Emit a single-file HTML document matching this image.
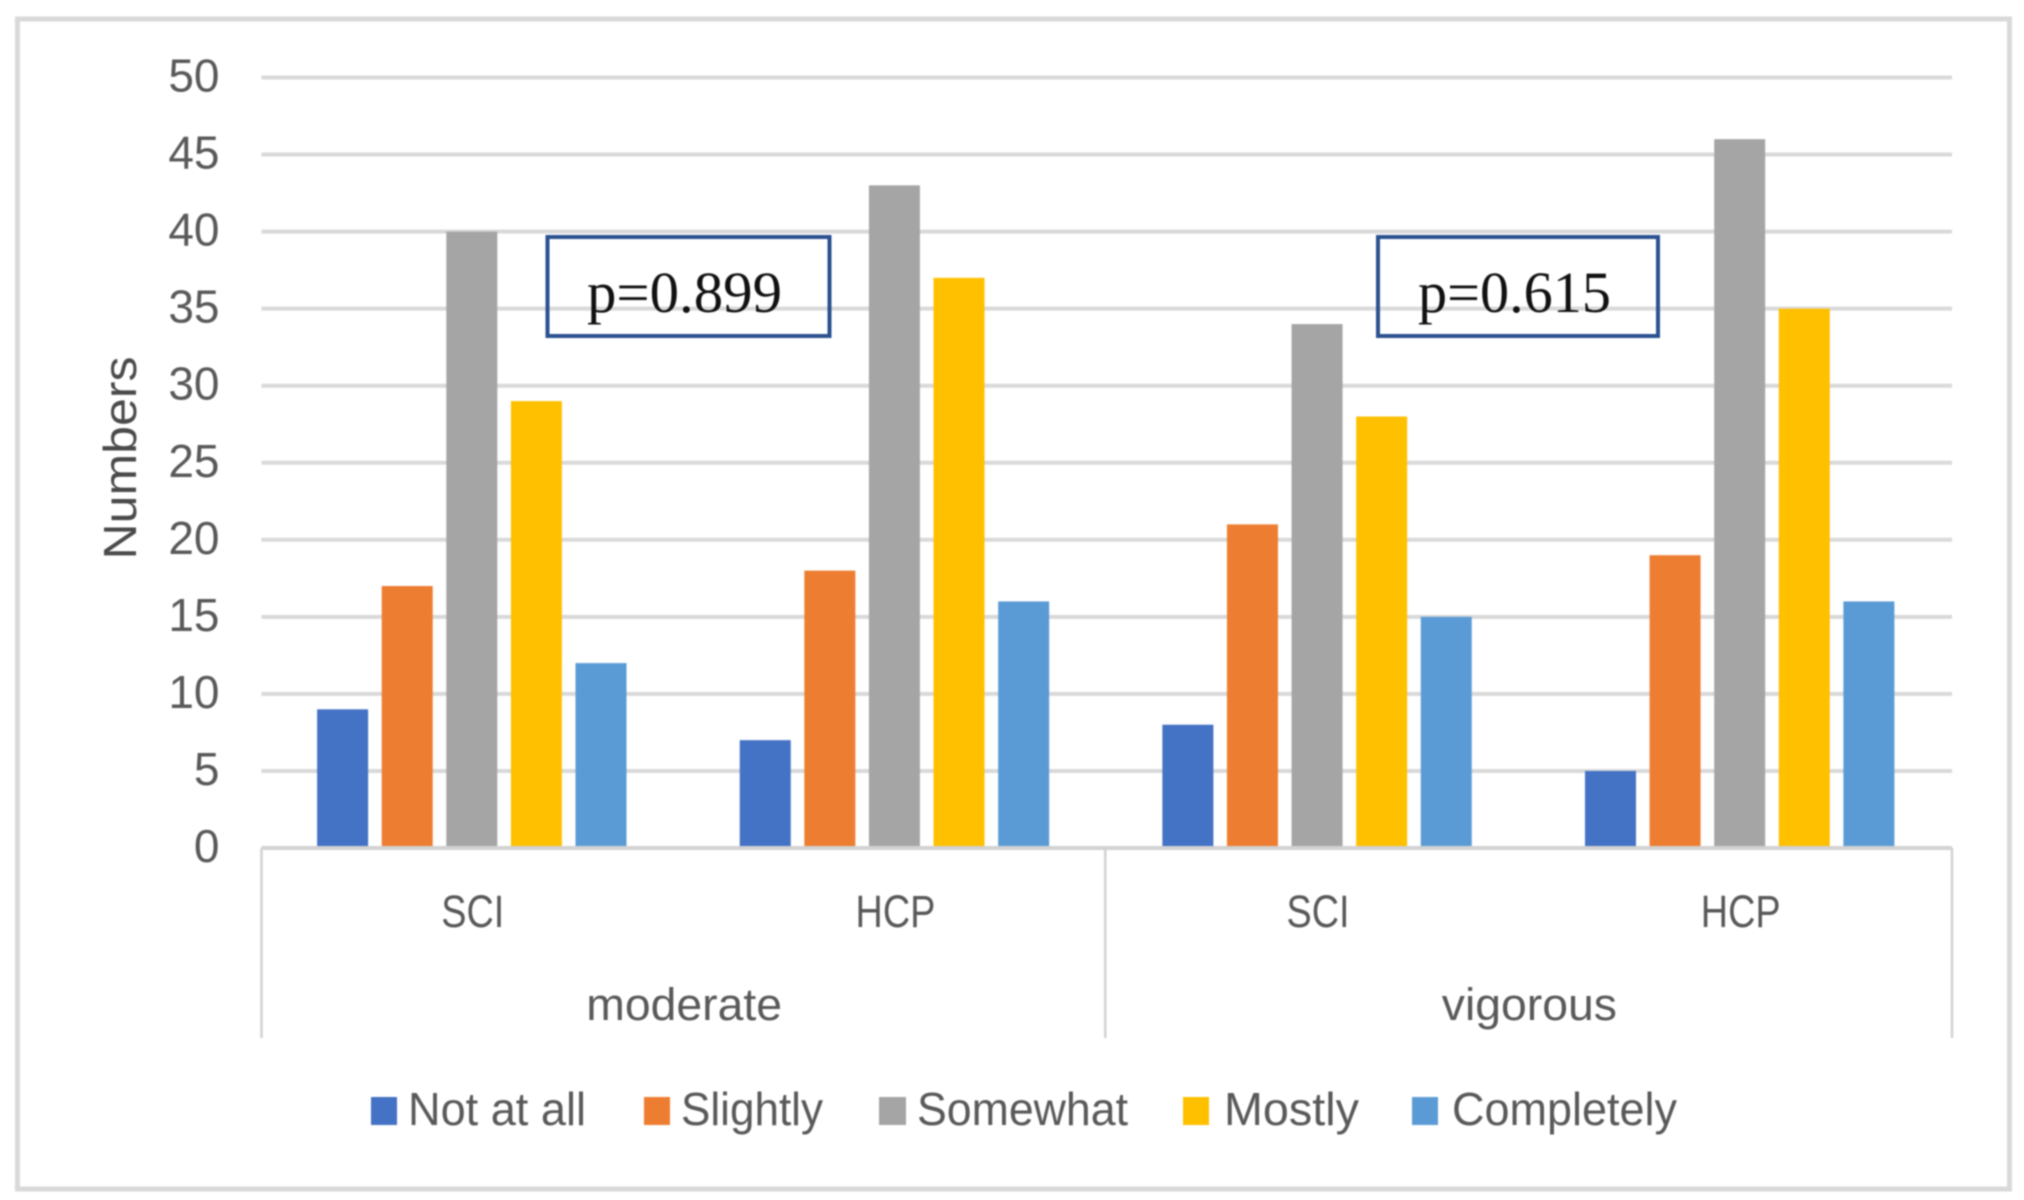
<!DOCTYPE html>
<html lang="en">
<head>
<meta charset="utf-8">
<title>Numbers by activity level and group</title>
<style>
  html, body { margin: 0; padding: 0; background: #ffffff; }
  body { width: 2024px; height: 1200px; overflow: hidden; }
  svg { display: block; filter: blur(0.7px); }
  text { font-family: "Liberation Sans", sans-serif; fill: #595959; }
  .pval { font-family: "Liberation Serif", serif; font-size: 58px; fill: #111111; }
</style>
</head>
<body>
<svg id="chart" xmlns="http://www.w3.org/2000/svg" width="2024" height="1200" viewBox="0 0 2024 1200">
  <rect x="17.5" y="19" width="1992" height="1170" fill="#ffffff" stroke="#d9d9d9" stroke-width="5"/>
  <g id="grid"></g>
  <g id="yticks"></g>
  <text transform="translate(136 458) rotate(-90)" text-anchor="middle" font-size="46" style="fill:#4a4a4a" textLength="203" lengthAdjust="spacingAndGlyphs">Numbers</text>
  <g id="axis"></g>
  <g id="bars"></g>

  <g>
    <rect x="547.5" y="237" width="282" height="99" fill="none" stroke="#2a5090" stroke-width="4"/>
    <text class="pval" x="587" y="312" textLength="195" lengthAdjust="spacingAndGlyphs">p=0.899</text>
  </g>
  <g>
    <rect x="1378" y="237" width="280" height="99" fill="none" stroke="#2a5090" stroke-width="4"/>
    <text class="pval" x="1418" y="312" textLength="193" lengthAdjust="spacingAndGlyphs">p=0.615</text>
  </g>

  <g>
    <g>
      <rect x="371" y="1097" width="26" height="28" fill="#4472c4"/>
      <text x="408" y="1125" font-size="46" textLength="178" lengthAdjust="spacingAndGlyphs">Not at all</text>
    </g>
    <g>
      <rect x="644" y="1097" width="26" height="28" fill="#ed7d31"/>
      <text x="681" y="1125" font-size="46" textLength="142" lengthAdjust="spacingAndGlyphs">Slightly</text>
    </g>
    <g>
      <rect x="879" y="1097" width="27" height="28" fill="#a5a5a5"/>
      <text x="917" y="1125" font-size="46" textLength="211" lengthAdjust="spacingAndGlyphs">Somewhat</text>
    </g>
    <g>
      <rect x="1183" y="1097" width="26" height="28" fill="#ffc000"/>
      <text x="1224" y="1125" font-size="46" textLength="135" lengthAdjust="spacingAndGlyphs">Mostly</text>
    </g>
    <g>
      <rect x="1412" y="1097" width="26" height="28" fill="#5b9bd5"/>
      <text x="1452" y="1125" font-size="46" textLength="225" lengthAdjust="spacingAndGlyphs">Completely</text>
    </g>
  </g>
</svg>

<script>
// Chart data
const groupLabels = ["SCI", "HCP", "SCI", "HCP"];
const levelLabels = ["moderate", "vigorous"];
const seriesNames = ["not-at-all", "slightly", "somewhat", "mostly", "completely"];
const notAtAll   = [9, 7, 8, 5];
const slightly   = [17, 18, 21, 19];
const somewhat   = [40, 43, 34, 46];
const mostly     = [29, 37, 28, 35];
const completely = [12, 16, 15, 16];
const yTicks = [0, 5, 10, 15, 20, 25, 30, 35, 40, 45, 50];

const seriesValues = [notAtAll, slightly, somewhat, mostly, completely];
const seriesColors = ["#4472c4", "#ed7d31", "#a5a5a5", "#ffc000", "#5b9bd5"];

const NS = "http://www.w3.org/2000/svg";
const plotLeft = 261.5, plotRight = 1952, plotTop = 77.5, plotBottom = 848, axisBottom = 1038;
const yMax = 50;
const barPitch = 64.6, barWidth = 51;

function yScale(v) { return plotBottom - (v / yMax) * (plotBottom - plotTop); }
function groupCenter(i) { return plotLeft + (i + 0.5) * (plotRight - plotLeft) / groupLabels.length; }
function barX(groupIndex, seriesIndex) {
  return groupCenter(groupIndex) - 1 + (seriesIndex - (seriesValues.length - 1) / 2) * barPitch - barWidth / 2;
}
function make(tag, attrs, parent, content) {
  const el = document.createElementNS(NS, tag);
  for (const k in attrs) el.setAttribute(k, attrs[k]);
  if (content !== undefined) el.textContent = content;
  parent.appendChild(el);
  return el;
}
function stretch(el, factor) {
  el.setAttribute("textLength", el.getComputedTextLength() * factor);
  el.setAttribute("lengthAdjust", "spacingAndGlyphs");
}

const gridG = document.getElementById("grid");
const tickG = document.getElementById("yticks");
const axisG = document.getElementById("axis");
const barsG = document.getElementById("bars");

yTicks.forEach(function (t) {
  if (t !== 0) {
    const line = make("line", { x1: plotLeft, x2: plotRight, y1: yScale(t), y2: yScale(t), stroke: "#d9d9d9", "stroke-width": 4 }, gridG);
    
    
  }
  const label = make("text", { x: 219.5, y: yScale(t) + 14, "text-anchor": "end", "font-size": 46 }, tickG, String(t));
  
  
});

const baseLine = make("line", { x1: plotLeft, x2: plotRight, y1: plotBottom, y2: plotBottom, stroke: "#d2d2d2", "stroke-width": 4 }, axisG);



const dividerCount = levelLabels.length + 1;
for (let d = 0; d < dividerCount; d++) {
  const x = plotLeft + d * (plotRight - plotLeft) / levelLabels.length - (d === 1 ? 1.5 : 0);
  const divider = make("line", { x1: x, x2: x, y1: plotBottom, y2: axisBottom, stroke: "#d2d2d2", "stroke-width": 2.5 }, axisG);
  
  
}

groupLabels.forEach(function (g, i) {
  const label = make("text", { x: groupCenter(i), y: 927, "text-anchor": "middle", "font-size": 45 }, axisG, g);
  
  
  stretch(label, 0.84);
});

levelLabels.forEach(function (l, i) {
  const cx = plotLeft + (i + 0.5) * (plotRight - plotLeft) / levelLabels.length;
  const label = make("text", { x: cx, y: 1020, "text-anchor": "middle", "font-size": 45 }, axisG, l);
  
  
  stretch(label, 1.03);
});

seriesValues.forEach(function (values, s) {
  values.forEach(function (v, g) {
    const bar = make("rect", { x: barX(g, s), y: yScale(v), width: barWidth, height: plotBottom - 2 - yScale(v), fill: seriesColors[s] }, barsG);
    
    
  });
});
</script>
</body>
</html>
